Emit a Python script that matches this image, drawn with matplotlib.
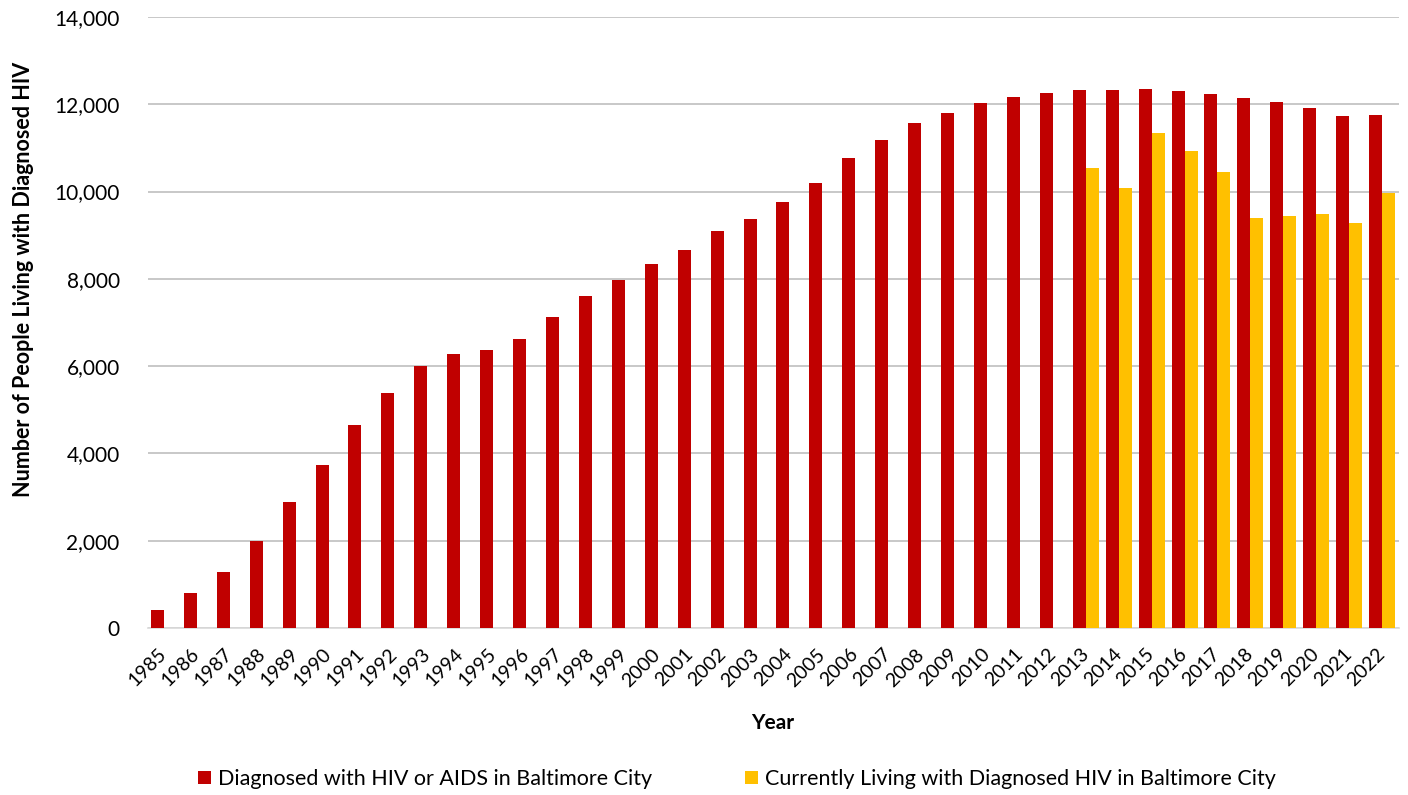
import numpy as np
import matplotlib
matplotlib.use("Agg")
import matplotlib.pyplot as plt
from matplotlib.ticker import FuncFormatter

plt.rcParams['font.family'] = ['Lato', 'DejaVu Sans']

# data
years = list(range(1985, 2023))
diagnosed = [420, 800, 1280, 2000, 2880, 3745, 4645, 5395, 6000, 6270,
             6380, 6625, 7120, 7600, 7985, 8330, 8670, 9105, 9365, 9770,
             10185, 10765, 11175, 11560, 11795, 12040, 12160, 12265, 12325, 12320,
             12360, 12305, 12235, 12140, 12045, 11925, 11740, 11748]
living_years = list(range(2013, 2023))
living = [10545, 10090, 11345, 10925, 10440, 9390, 9435, 9485, 9280, 9975]

red = '#C00000'
yellow = '#FFC000'

fig = plt.figure(figsize=(14.08, 7.95), dpi=100)
ax = fig.add_axes([147.5 / 1408, 1 - 628 / 795, 1251 / 1408, 611 / 795])

x = np.arange(len(years))
w = 0.395
living_full = [np.nan] * len(years)
for yr, v in zip(living_years, living):
    living_full[years.index(yr)] = v

ax.bar(x - w / 2, diagnosed, w, color=red, label='Diagnosed with HIV or AIDS in Baltimore City', zorder=3)
ax.bar(x + w / 2, living_full, w, color=yellow, label='Currently Living with Diagnosed HIV in Baltimore City', zorder=3)

ax.set_xlim(-0.5, len(years) - 0.5)
ax.set_ylim(0, 14000)
ax.set_yticks(range(0, 14001, 2000))
ax.yaxis.set_major_formatter(FuncFormatter(lambda v, p: f'{int(v):,}'))
ax.grid(axis='y', color='#BFBFBF', linewidth=1.2, zorder=0)
ax.tick_params(axis='both', length=0, colors='black')
ax.tick_params(axis='y', pad=20, labelsize=15)
ax.set_xticks(x)
ax.set_xticklabels([str(y) for y in years], rotation=45, ha='right', va='center',
                   rotation_mode='anchor')
ax.tick_params(axis='x', pad=17, labelsize=14)
for s in ['top', 'right', 'left']:
    ax.spines[s].set_visible(False)
ax.spines['bottom'].set_color('#D9D9D9')
ax.spines['bottom'].set_linewidth(1.2)

ax.set_ylabel('Number of People Living with Diagnosed HIV', fontsize=15.5, fontweight='bold')
ax.yaxis.set_label_coords(-0.091, 0.57)
ax.set_xlabel('Year', fontsize=15, fontweight='bold', labelpad=17)

fig.legend(loc='center', bbox_to_anchor=(737 / 1408, 1 - 779 / 795), ncol=2, frameon=False,
           fontsize=15.5, handlelength=0.6, handleheight=0.6, handletextpad=0.35,
           columnspacing=4.3)

fig.savefig('out.png', dpi=100)
